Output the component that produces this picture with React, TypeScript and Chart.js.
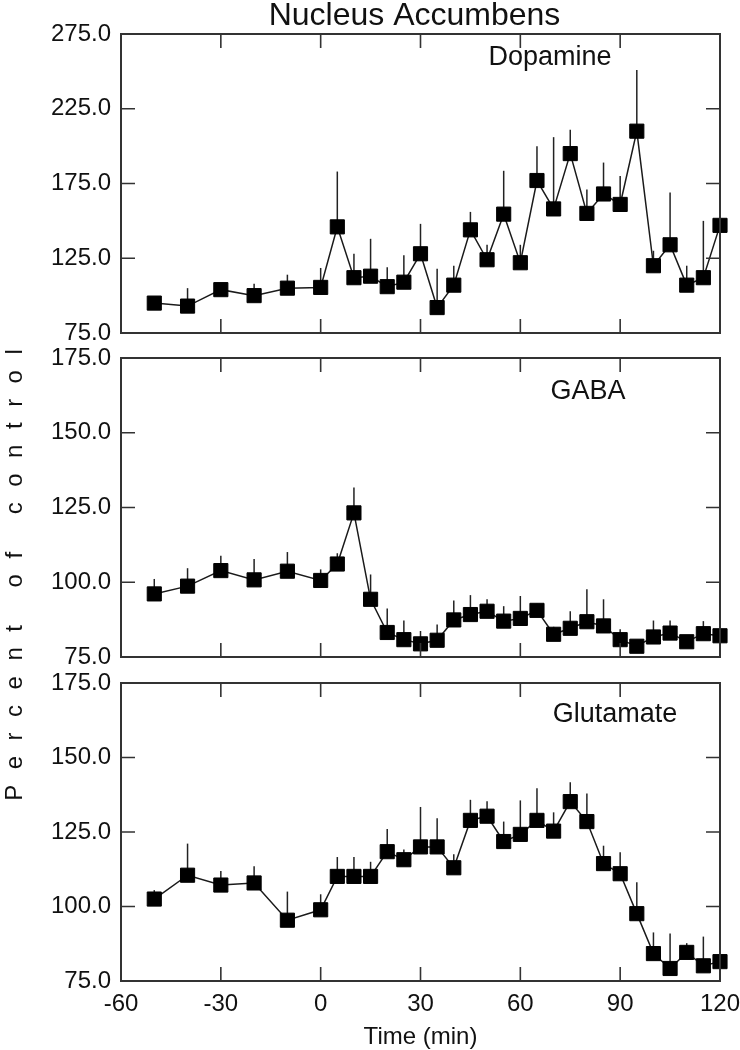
import React, { useEffect, useRef } from "react";
import { Chart, registerables } from "chart.js";

Chart.register(...registerables);

// ---- data ----
const times = [-50, -40, -30, -20, -10, 0, 5, 10, 15, 20, 25, 30, 35, 40, 45, 50, 55, 60, 65, 70, 75, 80, 85, 90, 95, 100, 105, 110, 115, 120];

const dopamine = [95, 93, 104, 100, 105, 105.5, 146, 112, 113, 106, 109, 128, 92, 107, 144, 124, 154.5, 122, 177, 158, 195, 155, 168, 161, 210, 120, 134, 107, 112, 147];
const dopamineErr = [2, 12, 2, 8, 9, 13, 37, 16, 25, 13, 18, 20, 26, 13, 12, 10, 29, 12, 23, 48, 16, 16, 21, 19, 41, 10, 35, 13, 38, 3];

const gaba = [96.1, 98.7, 103.9, 100.8, 103.7, 100.6, 106.1, 123.2, 94.3, 83.2, 80.8, 79.4, 80.6, 87.4, 89.2, 90.3, 87, 87.9, 90.6, 82.6, 84.6, 86.8, 85.4, 80.8, 78.6, 81.7, 83, 80.1, 82.8, 82.1];
const gabaErr = [5, 6, 5, 7, 6.4, 3.7, 3.6, 8.5, 8.3, 8, 6.4, 4.3, 5.3, 6.5, 6.5, 4, 5, 7.5, 2.2, 2.5, 5.7, 10.9, 8.9, 3.5, 1.5, 5.5, 4.2, 1.5, 4.2, 1.5];

const glutamate = [102.5, 110.5, 107.2, 107.9, 95.4, 98.9, 110.1, 110.1, 110.1, 118.4, 115.7, 120, 120, 113, 128.9, 130.3, 121.8, 124.2, 128.9, 125.3, 135.2, 128.5, 114.4, 111, 97.6, 84.2, 79.2, 84.6, 80.1, 81.5];
const glutamateErr = [3, 10.6, 4.7, 5.6, 9.6, 5.2, 6.5, 6.5, 4.9, 7.6, 3.4, 13.4, 9.6, 4.5, 6.9, 5, 6.7, 11.4, 10.8, 6.3, 6.5, 9.4, 6, 7.2, 10.5, 7.1, 11.7, 3.1, 9.8, 1.5];

const xTicks = [-60, -30, 0, 30, 60, 90, 120];
const dopamineTicks = [75, 125, 175, 225, 275];
const aminoTicks = [75, 100, 125, 150, 175];

const chartTitle = "Nucleus Accumbens";
const yTitle = "Percent of control";
const xTitle = "Time (min)";

// ---- layout ----
const W = 740;
const H = 1050;
const FONT = "'Liberation Sans', Arial, Helvetica, sans-serif";
const INK = "#111";
const FRAME = "#333";

type Panel = {
  name: string;
  values: number[];
  errs: number[];
  yTicks: number[];
  top: number;
  bottom: number;
  labelX: number;
  labelY: number;
  showX: boolean;
  drawTitle: boolean;
  drawYTitle: boolean;
};

const panels: Panel[] = [
  { name: "Dopamine", values: dopamine, errs: dopamineErr, yTicks: dopamineTicks, top: 34, bottom: 333, labelX: 550, labelY: 58, showX: false, drawTitle: true, drawYTitle: false },
  { name: "GABA", values: gaba, errs: gabaErr, yTicks: aminoTicks, top: 358, bottom: 657, labelX: 588, labelY: 392, showX: false, drawTitle: false, drawYTitle: true },
  { name: "Glutamate", values: glutamate, errs: glutamateErr, yTicks: aminoTicks, top: 683, bottom: 981, labelX: 615, labelY: 715, showX: true, drawTitle: false, drawYTitle: false },
];

const X_AXIS_H = 69;

function makePlugin(p: Panel) {
  return {
    id: "panelDecor" + p.name,
    beforeDatasetsDraw(chart: any) {
      const ctx = chart.ctx;
      const xs = chart.scales.x;
      const ys = chart.scales.y;
      ctx.save();
      ctx.strokeStyle = "#222";
      ctx.lineWidth = 1.5;
      p.errs.forEach((e, i) => {
        const x = xs.getPixelForValue(times[i]);
        const y0 = ys.getPixelForValue(p.values[i]);
        const y1 = ys.getPixelForValue(p.values[i] + e);
        ctx.beginPath();
        ctx.moveTo(x, y0);
        ctx.lineTo(x, y1);
        ctx.stroke();
      });
      ctx.restore();
    },
    afterDraw(chart: any) {
      const ctx = chart.ctx;
      const xs = chart.scales.x;
      const ys = chart.scales.y;
      const { left, right, top, bottom } = chart.chartArea;
      const TL = 14;
      ctx.save();
      ctx.strokeStyle = FRAME;
      ctx.lineWidth = 1.6;
      xTicks.forEach((v) => {
        const x = xs.getPixelForValue(v);
        ctx.beginPath();
        ctx.moveTo(x, bottom);
        ctx.lineTo(x, bottom - TL);
        ctx.moveTo(x, top);
        ctx.lineTo(x, top + TL);
        ctx.stroke();
      });
      p.yTicks.forEach((v) => {
        const y = ys.getPixelForValue(v);
        ctx.beginPath();
        ctx.moveTo(left, y);
        ctx.lineTo(left + TL, y);
        ctx.moveTo(right, y);
        ctx.lineTo(right - TL, y);
        ctx.stroke();
      });
      ctx.lineWidth = 2;
      ctx.strokeRect(left, top, right - left, bottom - top);

      // panel label
      ctx.fillStyle = INK;
      ctx.font = `27px ${FONT}`;
      ctx.textAlign = "center";
      ctx.textBaseline = "middle";
      ctx.fillText(p.name, p.labelX, p.labelY);

      if (p.drawTitle) {
        ctx.font = `32px ${FONT}`;
        ctx.textAlign = "center";
        ctx.textBaseline = "alphabetic";
        ctx.fillText(chartTitle, (left + right) / 2 - 6, 25);
      }

      if (p.drawYTitle) {
        ctx.font = `24px ${FONT}`;
        ctx.textBaseline = "middle";
        ctx.textAlign = "left";
        const ls = 15.5;
        const chars = Array.from(yTitle);
        const widths = chars.map((c) => ctx.measureText(c).width);
        const total = widths.reduce((a, b) => a + b, 0) + ls * (chars.length - 1);
        ctx.translate(15, 575);
        ctx.rotate(-Math.PI / 2);
        let pos = -total / 2;
        chars.forEach((c, i) => {
          ctx.fillText(c, pos, 0);
          pos += widths[i] + ls;
        });
      }
      ctx.restore();
    },
  };
}

function PanelChart({ p }: { p: Panel }) {
  const ref = useRef<HTMLCanvasElement | null>(null);
  useEffect(() => {
    if (!ref.current) return;
    const chart = new Chart(ref.current, {
      type: "line",
      data: {
        datasets: [
          {
            label: p.name,
            data: times.map((t, i) => ({ x: t, y: p.values[i] })),
            borderColor: "#1a1a1a",
            borderWidth: 1.5,
            pointStyle: "rect",
            pointRadius: 10,
            pointHoverRadius: 10,
            pointBackgroundColor: "#000",
            pointBorderColor: "#000",
            pointBorderWidth: 1,
            tension: 0,
            clip: false as any,
          },
        ],
      },
      options: {
        animation: false,
        responsive: false,
        events: [],
        layout: {
          padding: {
            top: p.top,
            bottom: H - p.bottom - (p.showX ? X_AXIS_H : 0),
            left: 0,
            right: 20,
          },
        },
        plugins: {
          legend: { display: false },
          tooltip: { enabled: false },
          title: { display: false },
        },
        scales: {
          x: {
            type: "linear",
            display: p.showX,
            min: -60,
            max: 120,
            afterBuildTicks: (s: any) => {
              s.ticks = xTicks.map((v) => ({ value: v }));
            },
            afterFit: (s: any) => {
              s.height = p.showX ? X_AXIS_H : 0;
              s.paddingLeft = 0;
              s.paddingRight = 0;
            },
            grid: { display: false, drawTicks: false },
            border: { display: false },
            ticks: {
              color: INK,
              font: { family: FONT, size: 24 },
              padding: 9,
              maxRotation: 0,
              autoSkip: false,
              callback: (v: any) => String(v),
            },
            title: {
              display: true,
              text: xTitle,
              color: INK,
              font: { family: FONT, size: 24 },
              padding: { top: 0, bottom: -2 },
            },
          },
          y: {
            type: "linear",
            min: p.yTicks[0],
            max: p.yTicks[p.yTicks.length - 1],
            afterBuildTicks: (s: any) => {
              s.ticks = p.yTicks.map((v) => ({ value: v }));
            },
            afterFit: (s: any) => {
              s.width = 121;
              s.paddingTop = 0;
              s.paddingBottom = 0;
            },
            grid: { display: false, drawTicks: false },
            border: { display: false },
            ticks: {
              color: INK,
              font: { family: FONT, size: 24 },
              padding: 10,
              autoSkip: false,
              callback: (v: any) => Number(v).toFixed(1),
            },
          },
        },
      },
      plugins: [makePlugin(p)],
    } as any);
    return () => chart.destroy();
  }, [p]);
  return (
    <canvas
      ref={ref}
      width={W}
      height={H}
      style={{ position: "absolute", left: 0, top: 0, width: W, height: H }}
    />
  );
}

export default function App() {
  return (
    <div style={{ position: "absolute", left: 0, top: 0, width: W, height: H, background: "#fff" }}>
      {panels.map((p) => (
        <PanelChart key={p.name} p={p} />
      ))}
    </div>
  );
}
